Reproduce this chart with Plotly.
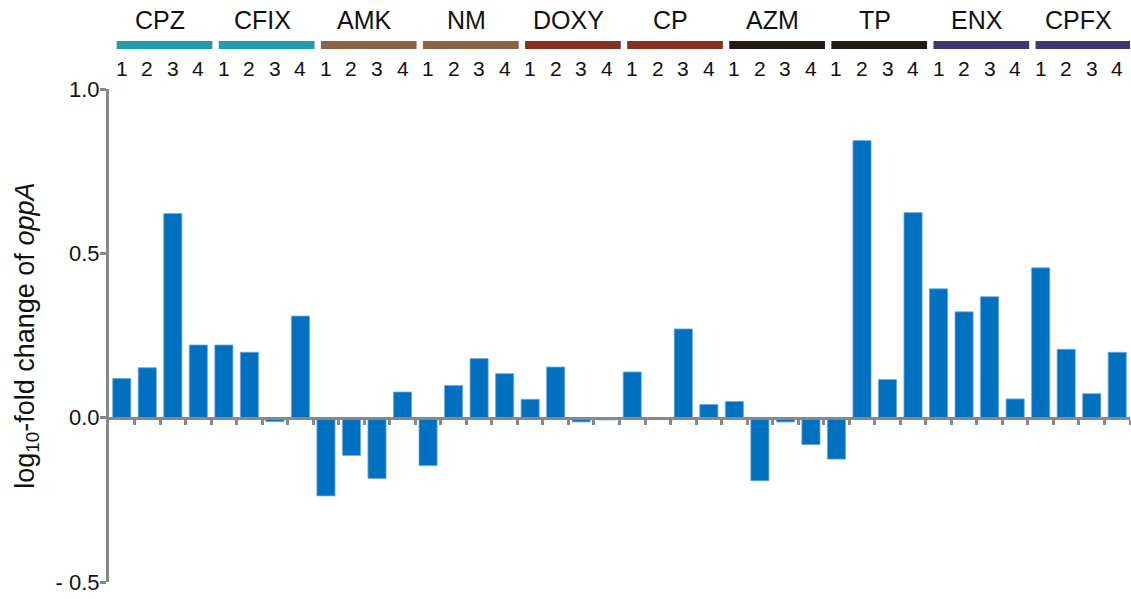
import plotly.graph_objects as go

# Antibiotics (4 conditions each) and their group colours
drugs = ["CPZ", "CFIX", "AMK", "NM", "DOXY", "CP", "AZM", "TP", "ENX", "CPFX"]
drug_colors = ["#249BAA", "#249BAA", "#8B6244", "#8B6244", "#84301F",
               "#84301F", "#231815", "#231815", "#3E3872", "#3E3872"]
replicates = ["1", "2", "3", "4"]

# log10-fold change of oppA, ordered drug by drug, condition 1..4
values = [
    0.119, 0.152, 0.621, 0.221,     # CPZ
    0.221, 0.199, -0.012, 0.309,    # CFIX
    -0.238, -0.115, -0.185, 0.078,  # AMK
    -0.146, 0.098, 0.180, 0.134,    # NM
    0.056, 0.154, -0.013, -0.007,   # DOXY
    0.139, 0.0, 0.270, 0.040,       # CP
    0.049, -0.192, -0.013, -0.082,  # AZM
    -0.126, 0.843, 0.116, 0.624,    # TP
    0.392, 0.322, 0.368, 0.057,     # ENX
    0.456, 0.208, 0.073, 0.199,     # CPFX
]

y_tickvals = [-0.5, 0.0, 0.5, 1.0]
y_ticktext = ["- 0.5", "0.0", "0.5", "1.0"]

FONT = "Liberation Sans, Arial, sans-serif"
AXIS_GREY = "#888888"

n_rep = len(replicates)
xs = list(range(len(values)))

fig = go.Figure()
fig.add_trace(go.Bar(
    x=xs, y=values, width=0.71,
    marker=dict(color="#0070C0", line=dict(color="#6FA8DC", width=0.8)),
    showlegend=False, hoverinfo="y",
))

# Group headers: drug name, coloured bar, condition numbers
for g, (name, col) in enumerate(zip(drugs, drug_colors)):
    start = g * n_rep
    fig.add_shape(type="rect", xref="x", yref="paper",
                  x0=start - 0.2, x1=start + n_rep - 0.45,
                  y0=1.0811, y1=1.0974,
                  fillcolor=col, line=dict(width=0), layer="above")
    fig.add_annotation(x=start + (n_rep - 1) / 2, y=1.139, xref="x", yref="paper",
                       text=name, showarrow=False, yanchor="middle",
                       font=dict(family=FONT, size=25, color="#111111"))
    for r, lab in enumerate(replicates):
        fig.add_annotation(x=start + r, y=1.0406, xref="x", yref="paper",
                           text=lab, showarrow=False, yanchor="middle",
                           font=dict(family=FONT, size=21, color="#111111"))

# Y-axis title
fig.add_annotation(x=-0.081, y=0.5, xref="paper", yref="paper",
                   text="log<sub>10</sub>-fold change of <i>oppA</i>",
                   textangle=-90, showarrow=False,
                   xanchor="center", yanchor="middle",
                   font=dict(family=FONT, size=27, color="#111111"))

fig.update_layout(
    width=1131, height=599,
    margin=dict(l=109, r=1, t=89, b=17),
    plot_bgcolor="white", paper_bgcolor="white",
    bargap=0.29,
    xaxis=dict(
        range=[-0.5, len(values) - 0.5],
        anchor="free", position=1 / 3,
        showline=True, linecolor=AXIS_GREY, linewidth=3,
        tickmode="array", tickvals=[i + 0.5 for i in xs],
        ticks="outside", ticklen=5, tickwidth=3, tickcolor=AXIS_GREY,
        showticklabels=False, showgrid=False, zeroline=False,
    ),
    yaxis=dict(
        range=[-0.5, 1.0],
        showline=True, linecolor=AXIS_GREY, linewidth=3,
        tickmode="array", tickvals=y_tickvals, ticktext=y_ticktext,
        ticks="outside", ticklen=6, tickwidth=3, tickcolor=AXIS_GREY,
        ticklabelstandoff=-4,
        tickfont=dict(family=FONT, size=22, color="#111111"),
        showgrid=False, zeroline=False,
    ),
)

fig.write_html("out.html")
